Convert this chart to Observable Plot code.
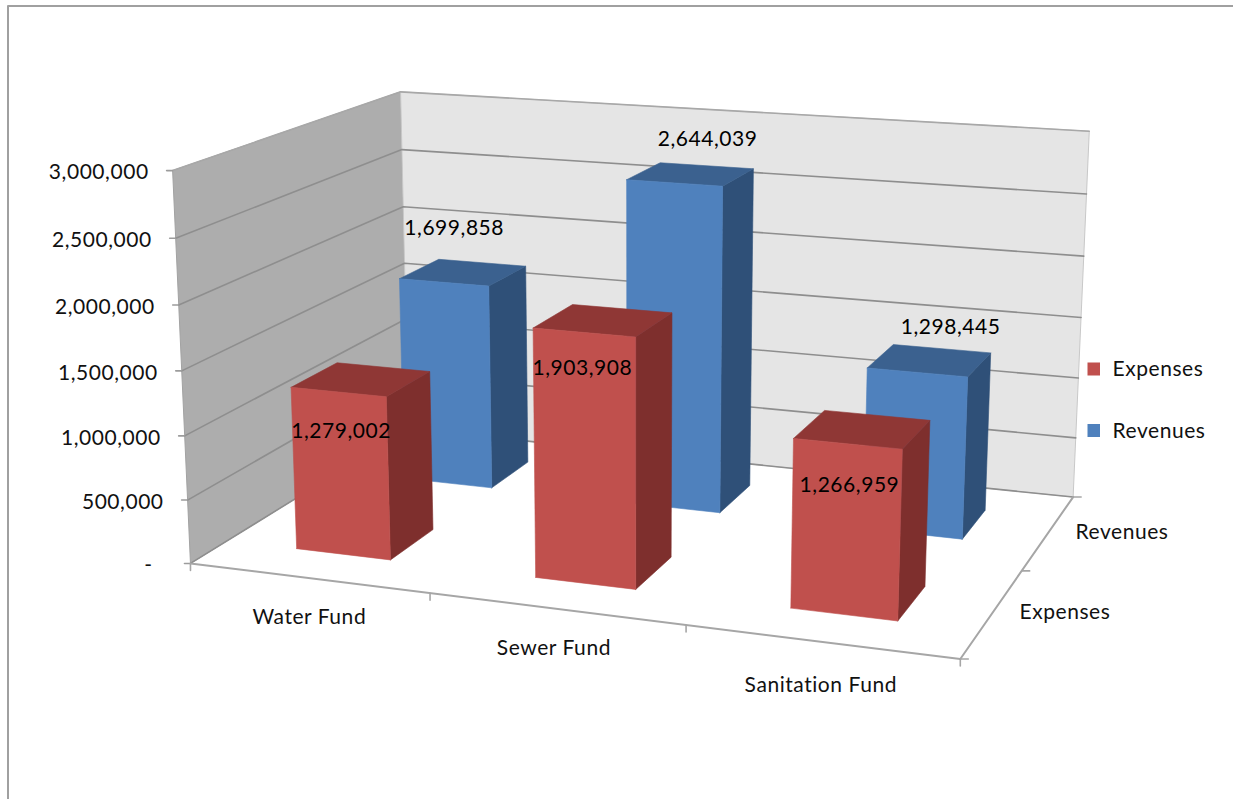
<!DOCTYPE html>
<html>
<head>
<meta charset="utf-8">
<script src="https://cdn.jsdelivr.net/npm/d3@7"></script>
<script src="https://cdn.jsdelivr.net/npm/@observablehq/plot@0.6"></script>
<style>
  html, body { margin: 0; padding: 0; background: #fff; overflow: hidden; }
  svg { display: block; }
</style>
</head>
<body>
<div id="chart"></div>
<script>
// Fund budget figures
const funds = ["Water Fund", "Sewer Fund", "Sanitation Fund"];
const seriesNames = ["Expenses", "Revenues"];
const expenses = [1279002, 1903908, 1266959];
const revenues = [1699858, 2644039, 1298445];
const valueTicks = [0, 500000, 1000000, 1500000, 2000000, 2500000, 3000000];
const valueTickLabels = ["-", "500,000", "1,000,000", "1,500,000", "2,000,000", "2,500,000", "3,000,000"];
const maxValue = 3000000;

// Face colours per series: front, side, top
const expenseFaces = ["#C0504D", "#7E2F2D", "#8F3735"];
const revenueFaces = ["#4F81BD", "#2F5078", "#3B618F"];

// Oblique view of the plot box. Each row ties a box point (across, depth, height 0..1)
// to its place on the page; a perspective matrix is fitted through them.
const viewAnchors = [
  [0, 0, 0 / 6, 191, 562.5], [0, 0, 1 / 6, 187.5, 499], [0, 0, 2 / 6, 184, 435],
  [0, 0, 3 / 6, 180.4, 370], [0, 0, 4 / 6, 177.5, 304], [0, 0, 5 / 6, 175, 239], [0, 0, 1, 172.5, 170],
  [1, 1, 0, 1072, 495], [1, 1, 1 / 6, 1075, 438], [1, 1, 2 / 6, 1078, 378],
  [1, 1, 3 / 6, 1081, 317], [1, 1, 4 / 6, 1083.5, 256], [1, 1, 5 / 6, 1086, 193], [1, 1, 1, 1088, 131],
  [0, 1, 1, 401, 91], [0, 1, 5 / 6, 402, 148.5], [0, 1, 4 / 6, 403, 206], [0, 1, 3 / 6, 403.5, 262], [0, 1, 2 / 6, 404, 321],
  [1, 0, 0, 959, 659], [1 / 3, 0, 0, 430, 593], [2 / 3, 0, 0, 685, 625], [1, 0.5, 0, 1023, 570]
];

// Least-squares fit of the 11 free matrix terms, solved by Gaussian elimination
function fitView(rows) {
  const A = d3.range(11).map(() => new Array(12).fill(0));
  const add = (r, t) => {
    for (let i = 0; i < 11; i++) {
      for (let j = 0; j < 11; j++) A[i][j] += r[i] * r[j];
      A[i][11] += r[i] * t;
    }
  };
  for (const [x, z, v, px, py] of rows) {
    const u = px / 1000, w = py / 1000;
    add([x, z, v, 1, 0, 0, 0, 0, -u * x, -u * z, -u * v], u);
    add([0, 0, 0, 0, x, z, v, 1, -w * x, -w * z, -w * v], w);
  }
  for (let c = 0; c < 11; c++) {
    let p = c;
    for (let r = c + 1; r < 11; r++) if (Math.abs(A[r][c]) > Math.abs(A[p][c])) p = r;
    [A[c], A[p]] = [A[p], A[c]];
    for (let r = 0; r < 11; r++) {
      if (r === c) continue;
      const f = A[r][c] / A[c][c];
      for (let k = c; k < 12; k++) A[r][k] -= f * A[c][k];
    }
  }
  return A.map((row, i) => row[11] / row[i]);
}
const m = fitView(viewAnchors);

// Box coordinates to page coordinates
function project(x, z, h) {
  const d = m[8] * x + m[9] * z + m[10] * h + 1;
  return {
    x: 1000 * (m[0] * x + m[1] * z + m[2] * h + m[3]) / d,
    y: 1000 * (m[4] * x + m[5] * z + m[6] * h + m[7]) / d
  };
}
const at = (x, z, value) => project(x, z, value / maxValue);

const font = "Lato, Carlito, Calibri, sans-serif";
const labelSize = 21;
const marks = [];

const polygon = (pts, fill, stroke = fill, strokeWidth = 0.6) =>
  Plot.line([...pts, pts[0]], {x: "x", y: "y", fill, stroke, strokeWidth, strokeLinejoin: "round"});
const segment = (a, b, stroke = "#9C9C9C", strokeWidth = 1.6) =>
  Plot.line([a, b], {x: "x", y: "y", stroke, strokeWidth});

// Chart frame, open on the right and at the bottom
marks.push(Plot.line([{x: 7.5, y: 799}, {x: 7.5, y: 5.5}, {x: 1233, y: 5.5}],
  {x: "x", y: "y", stroke: "#A0A0A0", strokeWidth: 2}));

// Walls
marks.push(polygon([at(0, 0, 0), at(0, 1, 0), at(0, 1, maxValue), at(0, 0, maxValue)], "#ADADAD", "#A2A2A2", 1));
marks.push(polygon([at(0, 1, 0), at(1, 1, 0), at(1, 1, maxValue), at(0, 1, maxValue)], "#E5E5E5", "#C8C8C8", 1));

// Value gridlines run along the side wall and the back wall
for (const t of valueTicks) {
  marks.push(Plot.line([at(0, 0, t), at(0, 1, t), at(1, 1, t)],
    {x: "x", y: "y", stroke: t === maxValue ? "#A8A8A8" : "#8E8E8E", strokeWidth: 1.6}));
  const p = at(0, 0, t);
  marks.push(segment({x: p.x - 6, y: p.y}, p, "#9C9C9C", 1.6));
}

// Floor edges and their ticks
marks.push(segment(at(0, 0, 0), at(1, 0, 0), "#A6A6A6", 2));
marks.push(segment(at(1, 0, 0), at(1, 1, 0), "#A6A6A6", 2));
for (const f of [0, 1 / 3, 2 / 3, 1]) {
  const p = at(f, 0, 0);
  marks.push(segment(p, {x: p.x, y: p.y + 7}, "#A6A6A6", 1.6));
}
for (const f of [0, 0.5, 1]) {
  const p = at(1, f, 0);
  marks.push(segment(p, {x: p.x + 8, y: p.y}, "#A6A6A6", 1.6));
}

// One box per fund; bars fill the middle 40% of each slot in both directions
function bar(fundIndex, seriesIndex, value, faces) {
  const x0 = (fundIndex + 0.3) / funds.length, x1 = (fundIndex + 0.7) / funds.length;
  const z0 = (seriesIndex + 0.3) / seriesNames.length, z1 = (seriesIndex + 0.7) / seriesNames.length;
  marks.push(polygon([at(x1, z0, 0), at(x1, z1, 0), at(x1, z1, value), at(x1, z0, value)], faces[1]));
  marks.push(polygon([at(x0, z0, value), at(x1, z0, value), at(x1, z1, value), at(x0, z1, value)], faces[2]));
  marks.push(polygon([at(x0, z0, 0), at(x1, z0, 0), at(x1, z0, value), at(x0, z0, value)], faces[0]));
}
// Back row first so the nearer row overlaps it
revenues.forEach((v, i) => bar(i, 1, v, revenueFaces));
expenses.forEach((v, i) => bar(i, 0, v, expenseFaces));

// Value labels, placed relative to the top centre of each bar
const fmt = d3.format(",");
const labelShift = {
  Expenses: [[-20, 52], [-21, 48], [-13, 56]],
  Revenues: [[-9, -44], [17, -35], [21, -33]]
};
const labelRows = [];
seriesNames.forEach((name, s) => {
  (s === 0 ? expenses : revenues).forEach((v, i) => {
    const p = at((i + 0.5) / funds.length, (s + 0.5) / seriesNames.length, v);
    const [dx, dy] = labelShift[name][i];
    labelRows.push({x: p.x + dx, y: p.y + dy, text: fmt(v)});
  });
});
marks.push(Plot.text(labelRows, {x: "x", y: "y", text: "text", fontSize: labelSize, fill: "#000", fontFamily: font}));

// Value axis labels
const valueLabelRows = valueTicks.map((t, i) => {
  const p = at(0, 0, t);
  return {x: t === 0 ? 152 : p.x - 24, y: p.y + 2, text: valueTickLabels[i]};
});
marks.push(Plot.text(valueLabelRows, {x: "x", y: "y", text: "text", textAnchor: "end", fontSize: labelSize, fill: "#111", fontFamily: font}));

// Fund labels along the front edge
const fundLabelOffsets = [[1, 39], [-2, 39], [0, 44]];
const fundRows = funds.map((name, i) => {
  const p = at((i + 0.5) / funds.length, 0, 0);
  return {x: p.x + fundLabelOffsets[i][0], y: p.y + fundLabelOffsets[i][1], text: name};
});
marks.push(Plot.text(fundRows, {x: "x", y: "y", text: "text", fontSize: labelSize, fill: "#111", fontFamily: font}));

// Series labels along the right floor edge
const seriesRows = [
  {x: 1019, y: 612, text: seriesNames[0]},
  {x: 1075, y: 532, text: seriesNames[1]}
];
marks.push(Plot.text(seriesRows, {x: "x", y: "y", text: "text", textAnchor: "start", fontSize: labelSize, fill: "#111", fontFamily: font}));

// Legend
const legendRows = [
  {name: seriesNames[0], color: expenseFaces[0], y: 369},
  {name: seriesNames[1], color: revenueFaces[0], y: 430.5}
];
marks.push(Plot.rect(legendRows, {x1: () => 1087.5, x2: () => 1100, y1: d => d.y - 6.5, y2: d => d.y + 6.5, fill: "color"}));
marks.push(Plot.text(legendRows, {x: () => 1112, y: "y", text: "name", textAnchor: "start", fontSize: labelSize, fill: "#111", fontFamily: font}));

document.getElementById("chart").append(Plot.plot({
  width: 1233,
  height: 799,
  margin: 0,
  x: {domain: [0, 1233], range: [0, 1233], axis: null},
  y: {domain: [0, 799], range: [0, 799], axis: null},
  color: {type: "identity"},
  style: {background: "#fff", fontFamily: font, letterSpacing: "0.55px"},
  marks
}));
</script>
</body>
</html>
